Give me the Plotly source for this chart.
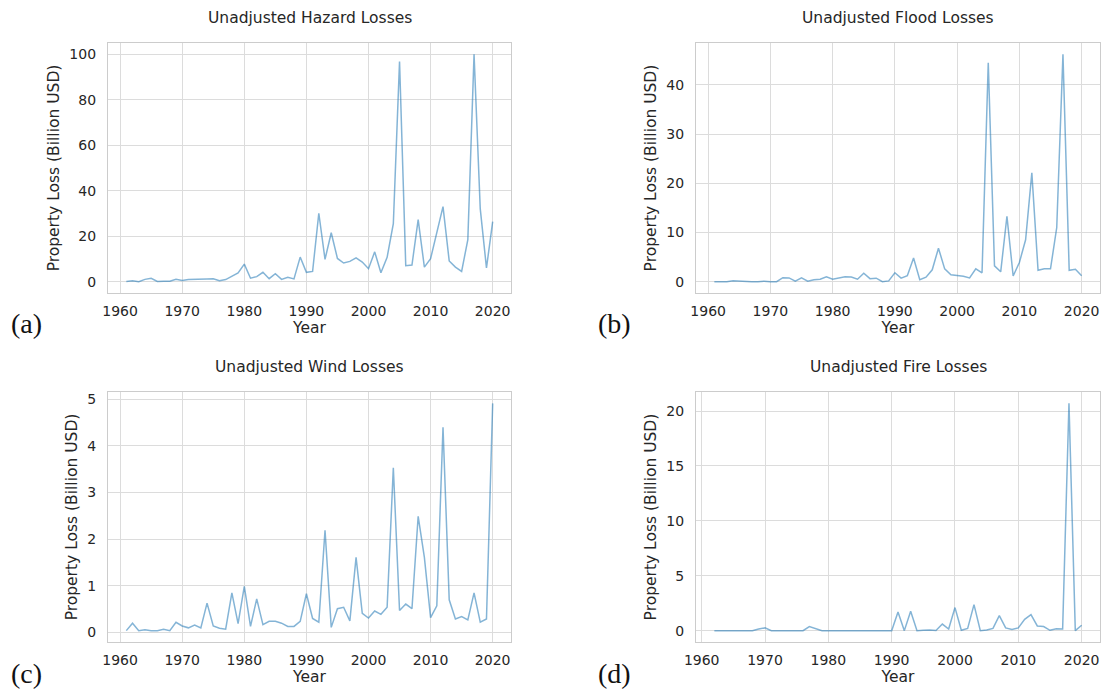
import plotly.graph_objects as go

# Annual property losses, billions of USD (unadjusted)
years_main = list(range(1961, 2021))
years_fire = list(range(1962, 2021))

hazard = [0.1, 0.4, 0.0, 1.0, 1.5, 0.1, 0.2, 0.2, 1.0, 0.5,
          0.9, 0.9, 1.0, 1.2, 1.3, 0.4, 0.9, 2.2, 3.8, 7.7,
          1.5, 2.2, 4.1, 1.3, 3.5, 1.0, 1.9, 1.2, 10.8, 4.1,
          4.5, 30.1, 9.8, 21.5, 10.2, 8.2, 8.9, 10.5, 8.6, 5.7,
          13.1, 3.9, 10.7, 25.5, 96.9, 7.0, 7.3, 27.3, 6.4, 10.1,
          22.2, 33.0, 9.1, 6.4, 4.5, 18.5, 100.0, 32.0, 6.0, 26.4]

flood = [0.0, 0.0, 0.0, 0.2, 0.1, 0.0, 0.0, 0.0, 0.1, 0.0,
         0.0, 0.8, 0.75, 0.1, 0.75, 0.1, 0.4, 0.5, 1.0, 0.5,
         0.75, 1.0, 0.95, 0.5, 1.7, 0.6, 0.7, 0.0, 0.15, 1.8,
         0.7, 1.2, 4.8, 0.4, 0.9, 2.4, 6.8, 2.6, 1.4, 1.3,
         1.1, 0.75, 2.6, 1.8, 44.5, 3.2, 2.0, 13.3, 1.15, 3.9,
         8.5, 22.1, 2.3, 2.6, 2.6, 11.0, 46.2, 2.3, 2.5, 1.2]

wind = [0.04, 0.2, 0.04, 0.06, 0.04, 0.04, 0.07, 0.04, 0.22, 0.14,
        0.1, 0.16, 0.1, 0.63, 0.14, 0.09, 0.07, 0.85, 0.19, 0.99,
        0.13, 0.72, 0.17, 0.24, 0.24, 0.2, 0.13, 0.13, 0.24, 0.83,
        0.3, 0.22, 2.19, 0.11, 0.51, 0.54, 0.25, 1.61, 0.41, 0.31,
        0.46, 0.39, 0.54, 3.53, 0.47, 0.61, 0.51, 2.49, 1.61, 0.32,
        0.57, 4.4, 0.7, 0.29, 0.34, 0.27, 0.85, 0.22, 0.29, 4.91]

fire = [0.0, 0.0, 0.0, 0.0, 0.0, 0.02, 0.0, 0.15, 0.25, 0.0,
        0.0, 0.0, 0.0, 0.0, 0.0, 0.37, 0.18, 0.0, 0.0, 0.0,
        0.0, 0.0, 0.0, 0.0, 0.0, 0.0, 0.0, 0.0, 0.0, 1.7,
        0.0, 1.77, 0.0, 0.03, 0.06, 0.01, 0.6, 0.15, 2.1, 0.03,
        0.2, 2.37, 0.0, 0.06, 0.2, 1.37, 0.25, 0.1, 0.25, 1.03,
        1.46, 0.43, 0.37, 0.03, 0.18, 0.15, 20.7, 0.0, 0.49]

titles = ["Unadjusted Hazard Losses", "Unadjusted Flood Losses",
          "Unadjusted Wind Losses", "Unadjusted Fire Losses"]
panel_tags = ["(a)", "(b)", "(c)", "(d)"]
x_ticks = [1960, 1970, 1980, 1990, 2000, 2010, 2020]
y_ticks = [[0, 20, 40, 60, 80, 100],
           [0, 10, 20, 30, 40],
           [0, 1, 2, 3, 4, 5],
           [0, 5, 10, 15, 20]]

series = [(years_main, hazard), (years_main, flood),
          (years_main, wind), (years_fire, fire)]

W, H = 1103, 689
# plot boxes in pixels: (left, right, top, bottom)
boxes = [(108, 511, 43, 293), (696, 1100, 43, 293),
         (108, 511, 392, 642), (696, 1100, 392, 642)]

TEXT = "#262626"
GRID = "#dcdcdc"
FRAME = "#cccccc"
LINE = "rgba(31,119,180,0.55)"
SANS = "DejaVu Sans"


def padded(lo, hi, frac=0.05):
    span = hi - lo
    return [lo - frac * span, hi + frac * span]


fig = go.Figure()
annotations = []
for i, ((xs, ys), box) in enumerate(zip(series, boxes)):
    n = "" if i == 0 else str(i + 1)
    l, r, t, b = box
    xd = [l / W, r / W]
    yd = [1 - b / H, 1 - t / H]
    fig.add_trace(go.Scatter(x=xs, y=ys, mode="lines",
                             line=dict(color=LINE, width=1.5),
                             xaxis="x" + n, yaxis="y" + n,
                             showlegend=False, hoverinfo="x+y"))
    common = dict(showgrid=True, gridcolor=GRID, gridwidth=1,
                  showline=True, linecolor=FRAME, linewidth=1.3, mirror=True,
                  zeroline=False, ticks="", automargin=False,
                  tickfont=dict(family=SANS, size=14, color=TEXT))
    fig.update_layout(**{
        "xaxis" + n: dict(domain=xd, anchor="y" + n,
                          range=padded(min(xs), max(xs)),
                          tickvals=x_ticks, ticklabelstandoff=5,
                          title=dict(text="Year", font=dict(family=SANS, size=15.5, color=TEXT),
                                     standoff=3),
                          **common),
        "yaxis" + n: dict(domain=yd, anchor="x" + n,
                          range=padded(min(ys), max(ys)),
                          tickvals=y_ticks[i], ticklabelstandoff=8,
                          title=dict(text="Property Loss (Billion USD)",
                                     font=dict(family=SANS, size=15.5, color=TEXT),
                                     standoff=5),
                          **common),
    })
    annotations.append(dict(text=titles[i], x=(l + r) / 2 / W, y=1 - (t - 25) / H,
                            xref="paper", yref="paper", showarrow=False,
                            xanchor="center", yanchor="middle",
                            font=dict(family=SANS, size=15.5, color=TEXT)))
    annotations.append(dict(text=panel_tags[i], x=(l - 82) / W, y=1 - (b + 31) / H,
                            xref="paper", yref="paper", showarrow=False,
                            xanchor="center", yanchor="middle",
                            font=dict(family="Liberation Serif", size=28, color="#111111")))

fig.update_layout(width=W, height=H, margin=dict(l=0, r=0, t=0, b=0),
                  paper_bgcolor="white", plot_bgcolor="white",
                  annotations=annotations)

fig.write_html("out.html")
